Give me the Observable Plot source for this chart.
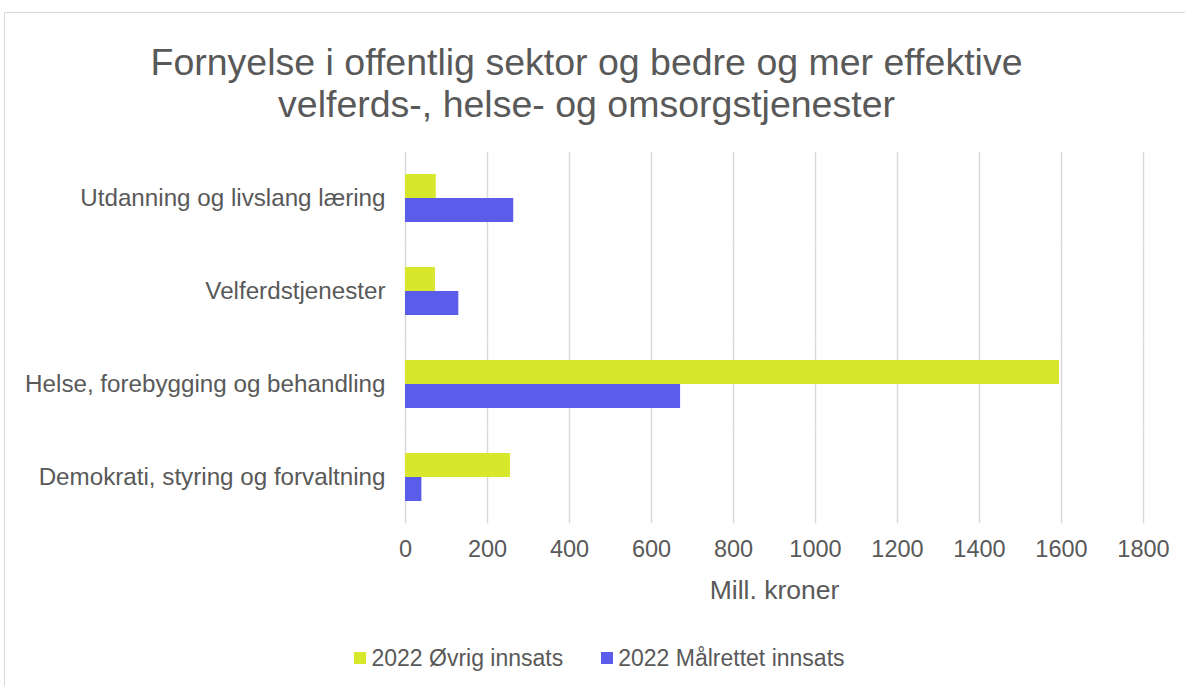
<!DOCTYPE html>
<html>
<head>
<meta charset="utf-8">
<script src="https://cdn.jsdelivr.net/npm/d3@7"></script>
<script src="https://cdn.jsdelivr.net/npm/@observablehq/plot@0.6"></script>
<style>
  html, body { margin: 0; padding: 0; background: #fff; width: 1185px; height: 686px; overflow: hidden; }
  body { font-family: "Liberation Sans", Arial, sans-serif; color: #595959; position: relative; }
  #frame { position: absolute; left: 4px; top: 12px; width: 1200px; height: 700px; border: 1px solid #d9d9d9; box-sizing: border-box; }
  #title { position: absolute; left: -6px; top: 41px; width: 1185px; text-align: center; font-size: 37.5px; line-height: 42px; color: #595959; white-space: nowrap; }
  #chart { position: absolute; left: 0; top: 140px; }
  #legend { position: absolute; left: 0; top: 644px; width: 1185px; display: flex; justify-content: center; font-size: 23px; line-height: 28px; color: #595959; padding-left: 14px; box-sizing: border-box; }
  .item { display: flex; align-items: center; margin: 0 19px; }
  .sw { width: 12px; height: 12px; margin-right: 5px; display: inline-block; }
</style>
</head>
<body>
<div id="frame"></div>
<div id="title">Fornyelse i offentlig sektor og bedre og mer effektive<br>velferds-, helse- og omsorgstjenester</div>
<div id="chart"></div>
<div id="legend"></div>
<script>
const categories = [
  "Utdanning og livslang læring",
  "Velferdstjenester",
  "Helse, forebygging og behandling",
  "Demokrati, styring og forvaltning"
];
const series = ["2022 Øvrig innsats", "2022 Målrettet innsats"];
const ovrig = [75, 73, 1595, 256];
const malrettet = [264, 130, 671, 40];
const colors = ["#d7e72b", "#5c5ceb"];
const xTicks = [0, 200, 400, 600, 800, 1000, 1200, 1400, 1600, 1800];
const xLabel = "Mill. kroner";

const data = [];
categories.forEach((c, i) => {
  data.push({category: c, series: series[0], value: ovrig[i]});
  data.push({category: c, series: series[1], value: malrettet[i]});
});

const gap = 22.3;
const chart = Plot.plot({
  width: 1185,
  height: 470,
  marginTop: 12,
  marginBottom: 86,
  marginLeft: 405,
  marginRight: 42,
  style: {fontFamily: "Liberation Sans, Arial, sans-serif", color: "#595959", background: "transparent"},
  x: {domain: [0, 1800]},
  y: {domain: series, padding: 0, axis: null},
  fy: {domain: categories, paddingInner: 0.48, paddingOuter: 0.24, label: null},
  color: {domain: series, range: colors},
  marks: [
    Plot.gridX(xTicks, {stroke: "#d9d9d9", strokeOpacity: 1, strokeWidth: 1.5, insetTop: -gap, insetBottom: -gap}),
    Plot.barX(data, {x: "value", y: "series", fy: "category", fill: "series"}),
    Plot.axisFy({anchor: "left", tickSize: 0, tickPadding: 20, label: null, fontSize: 24.2}),
    Plot.axisX(xTicks, {anchor: "bottom", tickSize: 0, tickPadding: 39, fontSize: 23.5, tickFormat: d => String(d), label: null}),
    Plot.axisX([], {anchor: "bottom", tickSize: 0, fontSize: 26.5, label: xLabel, labelAnchor: "center", labelArrow: "none", labelOffset: 97})
  ]
});
document.getElementById("chart").appendChild(chart);

const legend = document.getElementById("legend");
series.forEach((s, i) => {
  const item = document.createElement("div");
  item.className = "item";
  const sw = document.createElement("span");
  sw.className = "sw";
  sw.style.background = colors[i];
  const t = document.createElement("span");
  t.textContent = s;
  item.appendChild(sw);
  item.appendChild(t);
  legend.appendChild(item);
});
</script>
</body>
</html>
